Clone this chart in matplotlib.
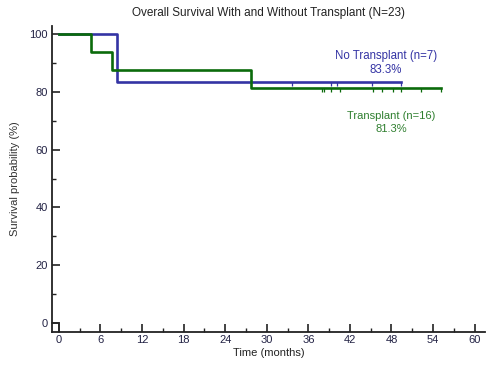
import matplotlib
matplotlib.use("Agg")
import matplotlib.pyplot as plt
from matplotlib.ticker import MultipleLocator

plt.rcParams['font.family'] = ['Liberation Sans', 'DejaVu Sans']

# Data
no_tx_times = [0, 8.4, 49.4]
no_tx_surv = [100, 83.3, 83.3]
no_tx_censor = [33.6, 39.3, 40.2, 45.2, 49.4]

tx_times = [0, 4.7, 7.7, 27.7, 55.1]
tx_surv = [100, 93.75, 87.5, 81.25, 81.25]
tx_censor = [38.0, 38.3, 39.3, 40.5, 45.4, 46.7, 48.2, 49.4, 52.2, 55.1]

x_ticks = [0, 6, 12, 18, 24, 30, 36, 42, 48, 54, 60]
y_ticks = [0, 20, 40, 60, 80, 100]

blue = '#3434a4'
green = '#0b6b0b'

fig = plt.figure(figsize=(5, 3.75), dpi=100)
ax = fig.add_axes([0.104, 0.1147, 0.866, 0.816])
ax.set_xlim(-1.0, 61.5)
ax.set_ylim(-3.1, 102.8)

ax.step(no_tx_times, no_tx_surv, where='post', color=blue, lw=1.9, zorder=3)
ax.step(tx_times, tx_surv, where='post', color=green, lw=1.9, zorder=4)
ax.vlines(no_tx_censor, 81.9, 83.3, color=blue, lw=0.9, zorder=3)
ax.vlines(tx_censor, 79.8, 81.25, color=green, lw=0.9, zorder=4)

for s in ['top', 'right']:
    ax.spines[s].set_visible(False)
for s in ['left', 'bottom']:
    ax.spines[s].set_linewidth(1.3)
    ax.spines[s].set_color('#222222')

# origin box
ax.plot([-1.0, 0, 0], [0, 0, -3.1], color='#222222', lw=1.1, clip_on=False)

ax.set_xticks(x_ticks)
ax.set_yticks(y_ticks)
ax.xaxis.set_minor_locator(MultipleLocator(3))
ax.yaxis.set_minor_locator(MultipleLocator(10))
ax.tick_params(axis='both', which='major', direction='in', length=6, width=1.2,
               color='#222222', labelsize=8, labelcolor='#222244')
ax.tick_params(axis='both', which='minor', direction='in', length=3, width=1.0, color='#222222')
ax.tick_params(axis='x', pad=2)
ax.tick_params(axis='y', pad=3)

ax.set_xlabel('Time (months)', fontsize=8, color='#222222', labelpad=2)
ax.set_ylabel('Survival probability (%)', fontsize=8, color='#333333', labelpad=7)
fig.text(0.536, 0.965, 'Overall Survival With and Without Transplant (N=23)',
         ha='center', va='center', fontsize=8.5, color='#222222')

ax.text(47.2, 92.3, 'No Transplant (n=7)', ha='center', va='center', fontsize=8.3, color=blue)
ax.text(47.2, 87.6, '83.3%', ha='center', va='center', fontsize=8.3, color=blue)
ax.text(48.0, 71.6, 'Transplant (n=16)', ha='center', va='center', fontsize=8, color='#2f7f2f')
ax.text(48.0, 67.0, '81.3%', ha='center', va='center', fontsize=8, color='#2f7f2f')

fig.savefig('out.png', dpi=100)
